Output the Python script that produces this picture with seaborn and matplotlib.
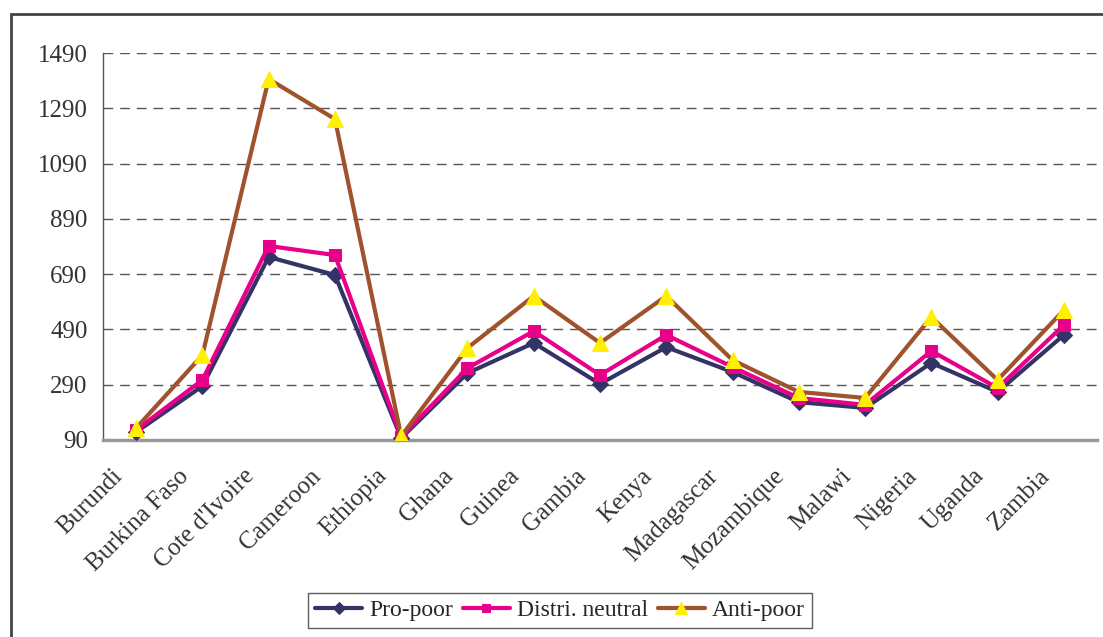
import numpy as np
import pandas as pd
import matplotlib.pyplot as plt
import seaborn as sns
from matplotlib.patches import Rectangle

# data
countries = ["Burundi", "Burkina Faso", "Cote d'Ivoire", "Cameroon", "Ethiopia",
             "Ghana", "Guinea", "Gambia", "Kenya", "Madagascar", "Mozambique",
             "Malawi", "Nigeria", "Uganda", "Zambia"]
pro_poor = [119, 285, 752, 687, 97, 332, 441, 293, 426, 336, 227, 206, 369, 264, 470]
neutral = [126, 307, 792, 759, 101, 350, 484, 325, 470, 354, 242, 217, 412, 278, 506]
anti_poor = [133, 397, 1396, 1251, 104, 423, 611, 441, 611, 379, 264, 242, 535, 307, 560]
y_ticks = [90, 290, 490, 690, 890, 1090, 1290, 1490]

sns.set_theme(style="white")
plt.rcParams['font.family'] = ['Liberation Serif', 'DejaVu Serif']

fig = plt.figure(figsize=(11.03, 6.37), dpi=100)
ax = fig.add_axes([103 / 1103, 1 - 440 / 637, (1097 - 103) / 1103, (440 - 53) / 637])

pos = np.arange(len(countries))
series = [
    ("Pro-poor", pro_poor, "#333366", "D", "#333366", 8),
    ("Distri. neutral", neutral, "#E8008A", "s", "#E8008A", 8),
    ("Anti-poor", anti_poor, "#A0522D", "^", "#FFF000", 11),
]
for name, vals, col, mk, mcol, ms in series:
    sns.lineplot(x=pos, y=vals, ax=ax, color=col, linewidth=3, marker=mk,
                 markersize=ms, markerfacecolor=mcol, markeredgecolor=mcol,
                 label=name, zorder=3)

ax.set_xlim(-0.5, len(countries) - 0.5)
ax.set_ylim(90, 1490)
ax.set_yticks(y_ticks)
ax.set_yticklabels([str(v) for v in y_ticks], fontsize=18, color="#333333")
# label anchors sit a bit left of the category centre (invisible major ticks)
ax.set_xticks(pos - 0.38)
ax.set_xticklabels(countries, rotation=45, ha="right", rotation_mode="anchor",
                   fontsize=18, color="#333333")
ax.set_xticks(np.arange(-0.5, len(countries)), minor=True)
ax.tick_params(axis="x", which="major", length=0, pad=18)
ax.tick_params(axis="x", which="minor", length=7, width=1, color="#333333", direction="out")
ax.tick_params(axis="y", length=8, width=1, color="#333333", direction="out", pad=3)
ax.yaxis.grid(True, linestyle=(0, (7, 5)), color="#555555", linewidth=1)
ax.set_xlabel("")
ax.set_ylabel("")

for s in ["top", "right"]:
    ax.spines[s].set_visible(False)
ax.spines["left"].set_color("#555555")
ax.spines["left"].set_linewidth(1)
ax.spines["bottom"].set_color("#999999")
ax.spines["bottom"].set_linewidth(2.5)

# outer frame of the chart area
fig.patches.append(Rectangle((11 / 1103, -0.02), 1.0, 1 - 14 / 637 + 0.02,
                             transform=fig.transFigure, fill=False,
                             edgecolor="#444444", linewidth=2))

leg = ax.legend(loc="lower center", bbox_to_anchor=(560 / 1103, -0.005),
                bbox_transform=fig.transFigure, ncol=3, fontsize=17,
                frameon=True, fancybox=False, edgecolor="#333333",
                handlelength=2.0, columnspacing=0.4, handletextpad=0.3,
                borderpad=0.3, markerscale=0.75)
leg.get_frame().set_linewidth(1)

fig.savefig("out.png", dpi=100)
